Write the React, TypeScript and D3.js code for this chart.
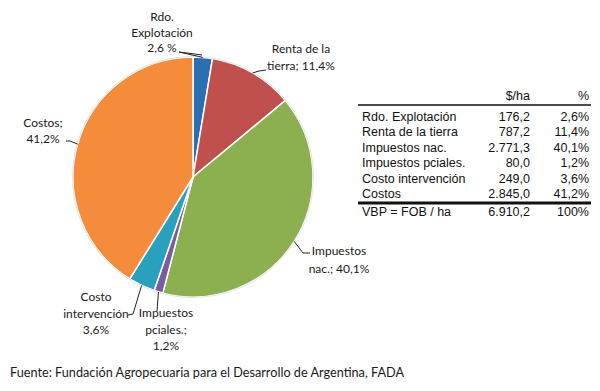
import * as d3 from "d3";

const categories = [
  "Rdo. Explotación",
  "Renta de la tierra",
  "Impuestos nac.",
  "Impuestos pciales.",
  "Costo intervención",
  "Costos",
];
const shares = [2.6, 11.4, 40.1, 1.2, 3.6, 41.2];
const perHa = ["176,2", "787,2", "2.771,3", "80,0", "249,0", "2.845,0"];
const pctLabels = ["2,6%", "11,4%", "40,1%", "1,2%", "3,6%", "41,2%"];
const totalRow = ["VBP = FOB / ha", "6.910,2", "100%"];
const colors = ["#2b6fb3", "#c0504d", "#8cb04f", "#7a5aa0", "#2aa0bf", "#f58c3c"];

// slice labels (text lines), placed by hand like the original
const sliceLabels = [
  { lines: ["Rdo.", "Explotación", "2,6 %"], x: 162, y: 21, gap: 15.5, leader: [[179, 52], [202, 55]] },
  { lines: ["Renta de la", "tierra; 11,4%"], x: 301, y: 53, gap: 17, leader: [[259, 71], [266, 70]] },
  { lines: ["Impuestos", "nac.; 40,1%"], x: 339, y: 255, gap: 17.5, leader: [[303, 253], [310, 253]] },
  { lines: ["Impuestos", "pciales.;", "1,2%"], x: 166, y: 317, gap: 16.5, leader: [[157, 311]] },
  { lines: ["Costo", "intervención", "3,6%"], x: 96, y: 301, gap: 16.5, leader: [[133, 314], [128, 315]] },
  { lines: ["Costos;", "41,2%"], x: 43, y: 127, gap: 16, leader: [[70, 141], [66, 141]] },
];

export default function App() {
  const cx = 193;
  const cy = 177;
  const r = 120;
  const pie = d3.pie<number>().sort(null).value((d) => d);
  const arcs = pie(shares);
  const arc = d3.arc<d3.PieArcDatum<number>>().innerRadius(0).outerRadius(r);

  const rowY = d3.scaleLinear().domain([0, 1]).range([121, 136.4]);

  return (
    <svg width={600} height={391} style={{ position: "absolute", left: 0, top: 0, background: "#fff" }}>
      <g transform={`translate(${cx},${cy})`}>
        {arcs.map((a, i) => (
          <path key={i} d={arc(a) || ""} fill={colors[i]} stroke="#fff" strokeWidth={1.5} />
        ))}
        <circle r={r + 0.5} fill="none" stroke="#e4e4e4" strokeWidth={1} />
      </g>
      {arcs.map((a, i) => {
        const m = (a.startAngle + a.endAngle) / 2;
        const px = cx + r * Math.sin(m);
        const py = cy - r * Math.cos(m);
        const L = sliceLabels[i];
        const pts = [[px, py], ...L.leader].map((p) => p.join(",")).join(" ");
        return <polyline key={"l" + i} points={pts} fill="none" stroke="#222" strokeWidth={1} />;
      })}
      <g fontFamily="Lato, 'Open Sans', sans-serif" fontSize={12} fill="#1a1a1a">
        {sliceLabels.map((L, i) => (
          <text key={"t" + i} x={L.x} y={L.y} textAnchor="middle">
            {L.lines.map((s, j) => (
              <tspan key={j} x={L.x} dy={j === 0 ? 0 : L.gap}>
                {s}
              </tspan>
            ))}
          </text>
        ))}
      </g>
      {/* table */}
      <g fontFamily="'Liberation Sans', Arial, sans-serif" fontSize={12.5} fill="#111">
        <text x={530} y={100} textAnchor="end">$/ha</text>
        <text x={589} y={100} textAnchor="end">%</text>
        <line x1={358} x2={591} y1={105} y2={105} stroke="#111" strokeWidth={1.5} />
        {categories.map((c, i) => (
          <g key={c}>
            <text x={362} y={rowY(i)}>{c}</text>
            <text x={530} y={rowY(i)} textAnchor="end">{perHa[i]}</text>
            <text x={589} y={rowY(i)} textAnchor="end">{pctLabels[i]}</text>
          </g>
        ))}
        <line x1={358} x2={591} y1={203} y2={203} stroke="#111" strokeWidth={3} />
        <text x={362} y={215.5}>{totalRow[0]}</text>
        <text x={530} y={215.5} textAnchor="end">{totalRow[1]}</text>
        <text x={589} y={215.5} textAnchor="end">{totalRow[2]}</text>
      </g>
      <text x={10} y={377} fontFamily="Lato, 'Open Sans', sans-serif" fontSize={12.7} fill="#1a1a1a">
        Fuente: Fundación Agropecuaria para el Desarrollo de Argentina, FADA
      </text>
    </svg>
  );
}
